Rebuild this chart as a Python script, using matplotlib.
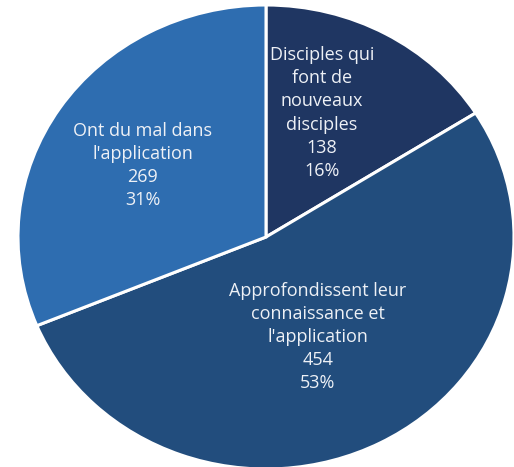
import numpy as np
import matplotlib.pyplot as plt

labels = [
    "Disciples qui\nfont de\nnouveaux\ndisciples",
    "Approfondissent leur\nconnaissance et\nl'application",
    "Ont du mal dans\nl'application",
]
values = [138, 454, 269]
colors = ["#1f3662", "#224d7d", "#2e6db0"]

# radial distance of each data label (as fraction of radius)
label_r = [0.58, 0.48, 0.585]
label_shift = [6, -1.5, 2]  # small angle tweak, degrees

fig = plt.figure(figsize=(5.14, 4.67), dpi=100)
ax = fig.add_axes([0, 0, 1, 1])

wedges, _ = ax.pie(values, colors=colors, startangle=90, counterclock=False,
                   wedgeprops=dict(edgecolor="white", linewidth=2.2))

total = sum(values)
for w, lab, v, r, s in zip(wedges, labels, values, label_r, label_shift):
    mid = np.deg2rad((w.theta1 + w.theta2) / 2 + s)
    txt = f"{lab}\n{v}\n{round(100 * v / total)}%"
    ax.text(r * np.cos(mid), r * np.sin(mid), txt, ha="center", va="center",
            color="#eef1f6", fontsize=13, family="Open Sans", linespacing=1.36)

ax.set_aspect("auto")
ax.set_xlim(-266 / 248, (514 - 266) / 248)
ax.set_ylim(-(467 - 237) / 232, 237 / 232)
ax.axis("off")

fig.savefig("out.png", dpi=100)
